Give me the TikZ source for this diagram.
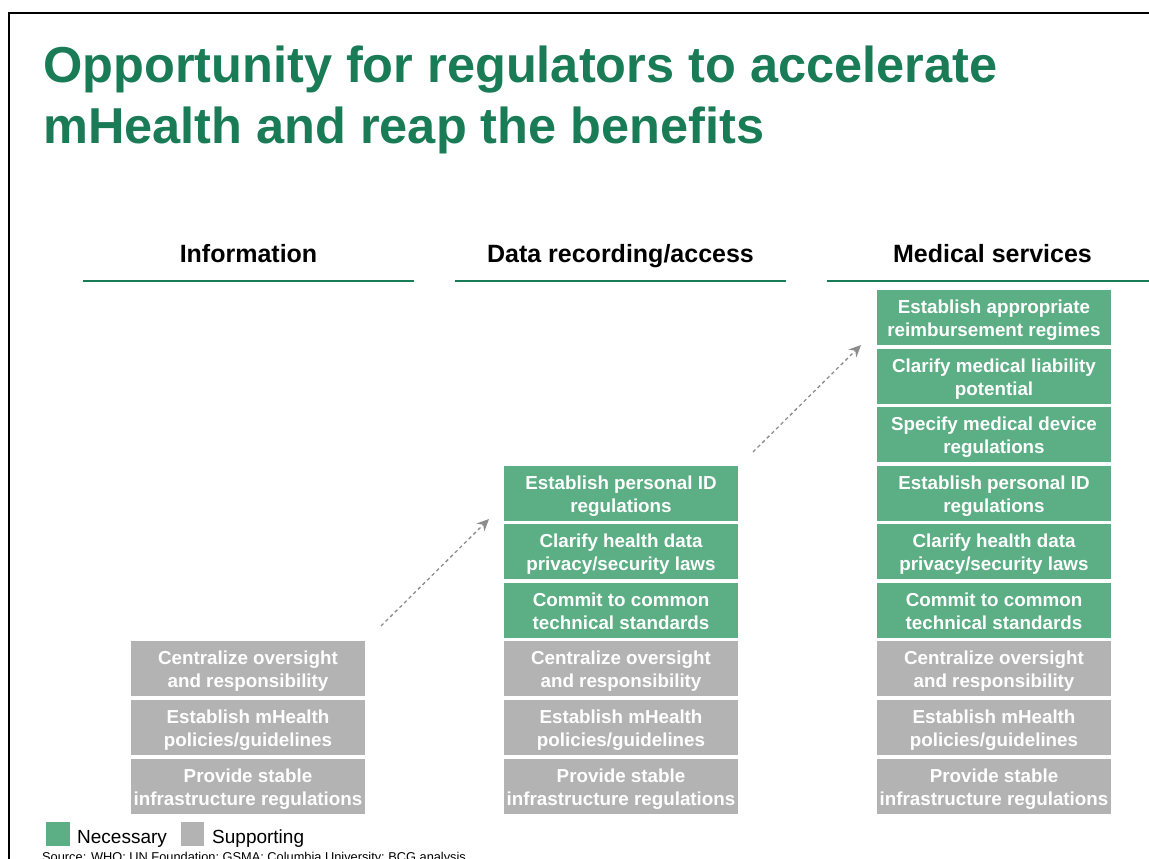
\documentclass[tikz,border=0pt]{standalone}
\usepackage{fontspec}
\setmainfont{Liberation Sans}
\usetikzlibrary{arrows.meta}

\definecolor{titlegreen}{RGB}{26,124,86}
\definecolor{needgreen}{RGB}{92,174,132}
\definecolor{supgray}{RGB}{179,179,179}
\definecolor{leapgray}{RGB}{140,140,140}

\tikzset{
	stepbox/.style = {minimum width = 234pt, minimum height = 55pt, inner sep = 0pt, text height = 42pt, text depth = 4pt, align = center, text = white, font = \fontsize{18.8}{22.7}\selectfont\bfseries},
	need/.style = {stepbox, fill = needgreen},
	support/.style = {stepbox, fill = supgray},
	colhead/.style = {anchor = base, font = \fontsize{25}{30}\selectfont\bfseries},
	colline/.style = {draw = titlegreen, line width = 2pt},
	leap/.style = {draw = leapgray, line width = 1.3pt, dash pattern = on 3.5pt off 3pt, -{Stealth[length = 12pt, width = 11pt]}},
	titletext/.style = {anchor = base west, inner sep = 0pt, text = titlegreen, font = \fontsize{50.5}{61}\selectfont\bfseries},
	keytext/.style = {anchor = base west, inner sep = 0pt, font = \fontsize{19}{23}\selectfont}
}

\begin{document}
\begin{tikzpicture}[x = 1pt, y = -1pt]
	\useasboundingbox (0, 0) rectangle (1149, 859);
	\clip (0, 0) rectangle (1149, 859);

	% frame
	\draw [line width = 2.5pt] (9, 859) -- (9, 13) -- (1152, 13);

	% title
	\node [titletext] (title1) at (43, 82) {Opportunity for regulators to accelerate};
	\node [titletext] (title2) at (43, 143) {mHealth and reap the benefits};

	% column heads
	\node [colhead] (hinfo) at (248.5, 262) {Information};
	\node [colhead] (hdata) at (620.5, 262) {Data recording/access};
	\node [colhead] (hmed) at (992.5, 262) {Medical services};

	\draw [colline] (83, 281) -- (414, 281);
	\draw [colline] (455, 281) -- (786, 281);
	\draw [colline] (827, 281) -- (1158, 281);

	% Information
	\node [support] (i1) at (248, 786) {Provide stable\\infrastructure regulations};
	\node [support] (i2) at (248, 727.5) {Establish mHealth\\policies/guidelines};
	\node [support] (i3) at (248, 668.5) {Centralize oversight\\and responsibility};

	% Data recording/access
	\node [support] (d1) at (621, 786) {Provide stable\\infrastructure regulations};
	\node [support] (d2) at (621, 727.5) {Establish mHealth\\policies/guidelines};
	\node [support] (d3) at (621, 668.5) {Centralize oversight\\and responsibility};
	\node [need] (d4) at (621, 610.5) {Commit to common\\technical standards};
	\node [need] (d5) at (621, 551.5) {Clarify health data\\privacy/security laws};
	\node [need] (d6) at (621, 493.5) {Establish personal ID\\regulations};

	% Medical services
	\node [support] (m1) at (994, 786) {Provide stable\\infrastructure regulations};
	\node [support] (m2) at (994, 727.5) {Establish mHealth\\policies/guidelines};
	\node [support] (m3) at (994, 668.5) {Centralize oversight\\and responsibility};
	\node [need] (m4) at (994, 610.5) {Commit to common\\technical standards};
	\node [need] (m5) at (994, 551.5) {Clarify health data\\privacy/security laws};
	\node [need] (m6) at (994, 493.5) {Establish personal ID\\regulations};
	\node [need] (m7) at (994, 434.5) {Specify medical device\\regulations};
	\node [need] (m8) at (994, 376.5) {Clarify medical liability\\potential};
	\node [need] (m9) at (994, 317.5) {Establish appropriate\\reimbursement regimes};

	% steps up
	\coordinate (a1) at (381, 626);
	\coordinate (a2) at (489, 519);
	\coordinate (b1) at (753, 452);
	\coordinate (b2) at (861, 345);

	\draw [leap] (a1) -- (a2);
	\draw [leap] (b1) -- (b2);

	% legend
	\fill [needgreen] (46, 822) rectangle (70, 846);
	\node [keytext] (kneed) at (77, 843) {Necessary};
	\fill [supgray] (181, 822) rectangle (204, 846);
	\node [keytext] (ksup) at (212, 843) {Supporting};

	\node [anchor = base west, inner sep = 0pt, font = \fontsize{12.8}{15}\selectfont] (src) at (42, 861.5) {Source: WHO; UN Foundation; GSMA; Columbia University; BCG analysis};
\end{tikzpicture}
\end{document}
